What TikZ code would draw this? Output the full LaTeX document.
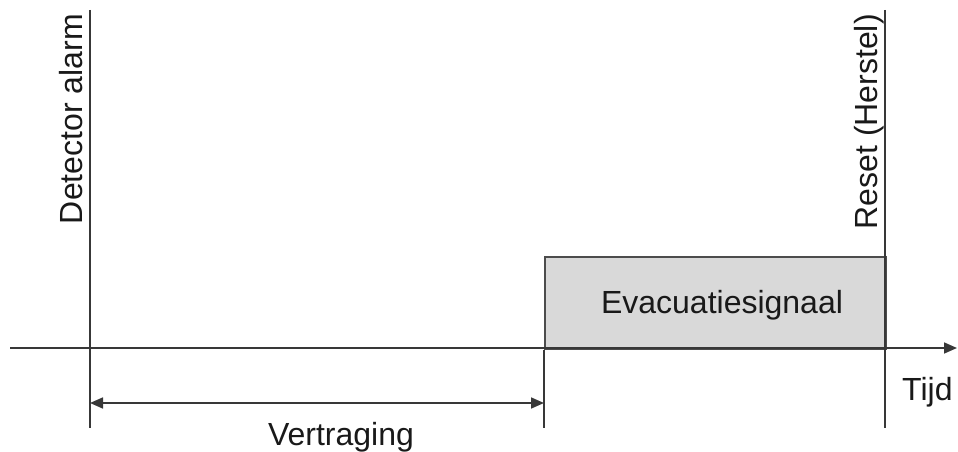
\documentclass[tikz,border=0pt]{standalone}
\usepackage{fontspec}
\setmainfont{Liberation Sans}
\usetikzlibrary{arrows.meta,positioning,calc}

\begin{document}
\begin{tikzpicture}[
      x=1pt, y=-1pt,
      lijn/.style={line width=1.7pt, draw=black!78},
      pijl/.style={lijn, -{Triangle[length=13pt,width=11pt]}},
      dubbelpijl/.style={lijn, {Triangle[length=13pt,width=11pt]}-{Triangle[length=13pt,width=11pt]}},
      tekst/.style={font=\fontsize{32}{38}\selectfont, inner sep=0pt, text=black!90}
  ]
    \useasboundingbox (0,0) rectangle (958,452);

    % Tijdas
    \coordinate (asbegin) at (10,348);
    \coordinate (aseind) at (957,348);

    % Verticale lijnen
    \coordinate (dettop) at (90,10);
    \coordinate (detbot) at (90,428);
    \coordinate (evabot) at (544,428);
    \coordinate (restop) at (885,10);
    \coordinate (resbot) at (885,428);

    % Evacuatiesignaal
    \node [draw=black!70, line width=1.5pt, fill=black!15, minimum width=341pt, minimum height=92pt, inner sep=0pt, anchor=north west] (eva) at (544,256) {};
    \node [tekst, anchor=base] (evatekst) at (722,313) {Evacuatiesignaal};

    \draw [lijn] (dettop) -- (detbot);
    \draw [lijn] (eva.south west) -- (evabot);
    \draw [lijn] (restop) -- (resbot);
    \draw [pijl] (asbegin) -- (aseind);

    % Vertraging
    \coordinate (vlinks) at (90,403);
    \coordinate (vrechts) at (544,403);
    \draw [dubbelpijl] (vlinks) -- (vrechts);
    \node [tekst, anchor=base] (vertraging) at (341,445) {Vertraging};

    % Labels
    \node [tekst, rotate=90, anchor=base east] (detector) at (82,14) {Detector alarm};
    \node [tekst, rotate=90, anchor=base east] (reset) at (877,14) {Reset (Herstel)};
    \node [tekst, anchor=base west] (tijd) at (902,400) {Tijd};
  \end{tikzpicture}
\end{document}
